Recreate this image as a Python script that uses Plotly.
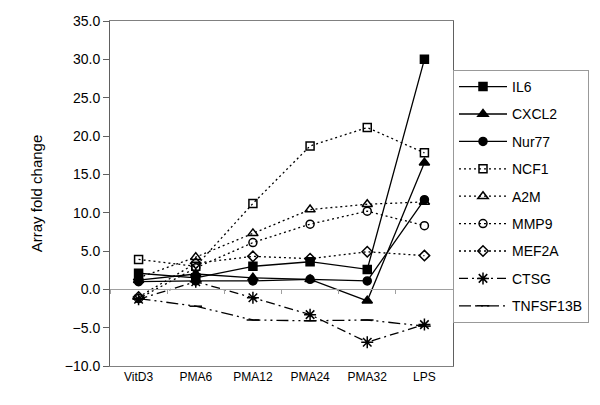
import plotly.graph_objects as go

categories = ["VitD3", "PMA6", "PMA12", "PMA24", "PMA32", "LPS"]

IL6 = [2.1, 1.5, 3.0, 3.6, 2.6, 30.0]
CXCL2 = [1.2, 2.0, 1.5, 1.3, -1.5, 16.5]
Nur77 = [1.0, 1.1, 1.1, 1.3, 1.1, 11.7]
NCF1 = [3.9, 3.0, 11.2, 18.7, 21.1, 17.8]
A2M = [1.5, 4.2, 7.3, 10.4, 11.1, 11.4]
MMP9 = [-1.2, 2.8, 6.1, 8.5, 10.2, 8.3]
MEF2A = [-1.0, 3.4, 4.3, 4.0, 4.9, 4.4]
CTSG = [-1.3, 1.0, -1.1, -3.3, -6.9, -4.6]
TNFSF13B = [-1.2, -2.2, -4.0, -4.1, -4.0, -4.8]

series = [
    ("IL6", IL6, "solid", "square", 8),
    ("CXCL2", CXCL2, "solid", "triangle-up", 9),
    ("Nur77", Nur77, "solid", "circle", 8),
    ("NCF1", NCF1, "2px,3px", "square-open", 8),
    ("A2M", A2M, "2px,3px", "triangle-up-open", 9),
    ("MMP9", MMP9, "2px,3px", "circle-open", 8),
    ("MEF2A", MEF2A, "2px,3px", "diamond-open", 8),
    ("CTSG", CTSG, "9px,4px,2px,4px", "asterisk-open", 10),
    ("TNFSF13B", TNFSF13B, "12px,4px,2px,4px,2px,4px", "line-ew-open", 9),
]

fig = go.Figure()
for name, vals, dash, sym, size in series:
    fig.add_trace(go.Scatter(
        x=categories, y=vals, name=name, mode="lines+markers",
        line=dict(color="black", width=1.3, dash=dash),
        marker=dict(symbol=sym, size=size, color="black",
                    line=dict(color="black", width=1.5)),
        legendgroup=name,
    ))

# helper trace for the category axis drawn at zero
fig.add_trace(go.Scatter(x=categories, y=[None] * len(categories), xaxis="x2",
                         showlegend=False, hoverinfo="skip", mode="lines"))

fig.update_layout(
    width=600, height=405,
    margin=dict(l=102, r=155, t=13, b=47, autoexpand=False),
    plot_bgcolor="white", paper_bgcolor="white",
    font=dict(family="Liberation Sans, Arial, sans-serif", color="black"),
    showlegend=True,
    legend=dict(
        x=1.0, xanchor="left", y=0.858, yanchor="top",
        xref="paper", yref="paper",
        bordercolor="#999999", borderwidth=1,
        font=dict(size=14), tracegroupgap=6.2,
        entrywidth=220, itemwidth=48,
    ),
    xaxis=dict(
        type="category", categoryorder="array", categoryarray=categories,
        range=[-0.5, 5.5], showgrid=False, showline=True, mirror=True,
        linecolor="#808080", linewidth=1, ticks="", tickfont=dict(size=12),
        zeroline=False,
    ),
    xaxis2=dict(
        type="category", categoryorder="array", categoryarray=categories,
        range=[-0.5, 5.5], overlaying="x", anchor="free", position=10 / 45,
        showline=True, linecolor="#a0a0a0", linewidth=1, ticks="outside",
        tickson="boundaries", ticklen=4, tickcolor="#a0a0a0",
        showticklabels=False, showgrid=False, zeroline=False, side="bottom",
    ),
    yaxis=dict(
        range=[-10, 35], dtick=5, tickformat=".1f", showgrid=False,
        showline=True, mirror=True, linecolor="#606060", linewidth=1,
        ticks="outside", ticklen=6, tickcolor="#606060",
        tickfont=dict(size=14), zeroline=False,
        title=dict(text="Array fold change", font=dict(size=15), standoff=18),
    ),
)

fig.write_html("out.html")
